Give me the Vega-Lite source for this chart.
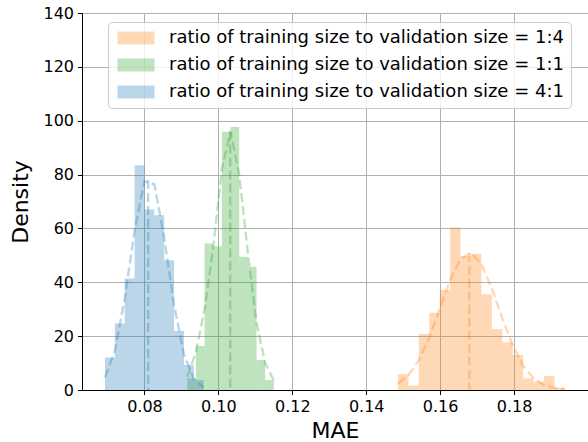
{
  "$schema": "https://vega.github.io/schema/vega-lite/v6.json",
  "width": 506,
  "height": 377,
  "autosize": {"type": "none"},
  "padding": {"left": 82, "top": 13, "right": 0, "bottom": 52},
  "background": "white",
  "datasets": {
    "bars": [
      {"series": "ratio of training size to validation size = 1:4", "x0": 0.14859, "x1": 0.15141, "density": 5.9},
      {"series": "ratio of training size to validation size = 1:4", "x0": 0.15141, "x1": 0.15423, "density": 1.6},
      {"series": "ratio of training size to validation size = 1:4", "x0": 0.15423, "x1": 0.15706, "density": 20.8},
      {"series": "ratio of training size to validation size = 1:4", "x0": 0.15706, "x1": 0.15988, "density": 28.7},
      {"series": "ratio of training size to validation size = 1:4", "x0": 0.15988, "x1": 0.16270, "density": 37.1},
      {"series": "ratio of training size to validation size = 1:4", "x0": 0.16270, "x1": 0.16552, "density": 60.4},
      {"series": "ratio of training size to validation size = 1:4", "x0": 0.16552, "x1": 0.16835, "density": 49.8},
      {"series": "ratio of training size to validation size = 1:4", "x0": 0.16835, "x1": 0.17117, "density": 50.5},
      {"series": "ratio of training size to validation size = 1:4", "x0": 0.17117, "x1": 0.17399, "density": 35.6},
      {"series": "ratio of training size to validation size = 1:4", "x0": 0.17399, "x1": 0.17681, "density": 22.6},
      {"series": "ratio of training size to validation size = 1:4", "x0": 0.17681, "x1": 0.17964, "density": 17.7},
      {"series": "ratio of training size to validation size = 1:4", "x0": 0.17964, "x1": 0.18246, "density": 13.0},
      {"series": "ratio of training size to validation size = 1:4", "x0": 0.18246, "x1": 0.18528, "density": 4.3},
      {"series": "ratio of training size to validation size = 1:4", "x0": 0.18528, "x1": 0.18810, "density": 3.1},
      {"series": "ratio of training size to validation size = 1:4", "x0": 0.18810, "x1": 0.19093, "density": 5.2},
      {"series": "ratio of training size to validation size = 1:4", "x0": 0.19093, "x1": 0.19375, "density": 0.9},
      {"series": "ratio of training size to validation size = 1:1", "x0": 0.09157, "x1": 0.09391, "density": 4.3},
      {"series": "ratio of training size to validation size = 1:1", "x0": 0.09391, "x1": 0.09626, "density": 16.3},
      {"series": "ratio of training size to validation size = 1:1", "x0": 0.09626, "x1": 0.09860, "density": 54.4},
      {"series": "ratio of training size to validation size = 1:1", "x0": 0.09860, "x1": 0.10094, "density": 53.4},
      {"series": "ratio of training size to validation size = 1:1", "x0": 0.10094, "x1": 0.10329, "density": 95.9},
      {"series": "ratio of training size to validation size = 1:1", "x0": 0.10329, "x1": 0.10563, "density": 97.7},
      {"series": "ratio of training size to validation size = 1:1", "x0": 0.10563, "x1": 0.10797, "density": 49.5},
      {"series": "ratio of training size to validation size = 1:1", "x0": 0.10797, "x1": 0.11032, "density": 45.8},
      {"series": "ratio of training size to validation size = 1:1", "x0": 0.11032, "x1": 0.11266, "density": 11.1},
      {"series": "ratio of training size to validation size = 1:1", "x0": 0.11266, "x1": 0.11500, "density": 3.7},
      {"series": "ratio of training size to validation size = 4:1", "x0": 0.06932, "x1": 0.07199, "density": 12.1},
      {"series": "ratio of training size to validation size = 4:1", "x0": 0.07199, "x1": 0.07466, "density": 24.7},
      {"series": "ratio of training size to validation size = 4:1", "x0": 0.07466, "x1": 0.07733, "density": 41.4},
      {"series": "ratio of training size to validation size = 4:1", "x0": 0.07733, "x1": 0.08000, "density": 83.5},
      {"series": "ratio of training size to validation size = 4:1", "x0": 0.08000, "x1": 0.08267, "density": 67.0},
      {"series": "ratio of training size to validation size = 4:1", "x0": 0.08267, "x1": 0.08534, "density": 64.9},
      {"series": "ratio of training size to validation size = 4:1", "x0": 0.08534, "x1": 0.08801, "density": 48.2},
      {"series": "ratio of training size to validation size = 4:1", "x0": 0.08801, "x1": 0.09068, "density": 21.9},
      {"series": "ratio of training size to validation size = 4:1", "x0": 0.09068, "x1": 0.09335, "density": 9.3},
      {"series": "ratio of training size to validation size = 4:1", "x0": 0.09335, "x1": 0.09602, "density": 3.7}
    ],
    "curves": [
      {"series": "ratio of training size to validation size = 1:4", "x": 0.14859, "pdf": 2.4},
      {"series": "ratio of training size to validation size = 1:4", "x": 0.15141, "pdf": 5.5},
      {"series": "ratio of training size to validation size = 1:4", "x": 0.15423, "pdf": 11.1},
      {"series": "ratio of training size to validation size = 1:4", "x": 0.15706, "pdf": 19.5},
      {"series": "ratio of training size to validation size = 1:4", "x": 0.15988, "pdf": 30.1},
      {"series": "ratio of training size to validation size = 1:4", "x": 0.16270, "pdf": 40.9},
      {"series": "ratio of training size to validation size = 1:4", "x": 0.16552, "pdf": 48.7},
      {"series": "ratio of training size to validation size = 1:4", "x": 0.16835, "pdf": 50.9},
      {"series": "ratio of training size to validation size = 1:4", "x": 0.17117, "pdf": 46.7},
      {"series": "ratio of training size to validation size = 1:4", "x": 0.17399, "pdf": 37.7},
      {"series": "ratio of training size to validation size = 1:4", "x": 0.17681, "pdf": 26.7},
      {"series": "ratio of training size to validation size = 1:4", "x": 0.17964, "pdf": 16.5},
      {"series": "ratio of training size to validation size = 1:4", "x": 0.18246, "pdf": 9.0},
      {"series": "ratio of training size to validation size = 1:4", "x": 0.18528, "pdf": 4.3},
      {"series": "ratio of training size to validation size = 1:4", "x": 0.18810, "pdf": 1.8},
      {"series": "ratio of training size to validation size = 1:4", "x": 0.19093, "pdf": 0.7},
      {"series": "ratio of training size to validation size = 1:4", "x": 0.19375, "pdf": 0.2},
      {"series": "ratio of training size to validation size = 1:1", "x": 0.09157, "pdf": 5.0},
      {"series": "ratio of training size to validation size = 1:1", "x": 0.09391, "pdf": 14.0},
      {"series": "ratio of training size to validation size = 1:1", "x": 0.09626, "pdf": 30.0},
      {"series": "ratio of training size to validation size = 1:1", "x": 0.09860, "pdf": 53.0},
      {"series": "ratio of training size to validation size = 1:1", "x": 0.10094, "pdf": 82.0},
      {"series": "ratio of training size to validation size = 1:1", "x": 0.10329, "pdf": 96.0},
      {"series": "ratio of training size to validation size = 1:1", "x": 0.10563, "pdf": 80.0},
      {"series": "ratio of training size to validation size = 1:1", "x": 0.10797, "pdf": 51.0},
      {"series": "ratio of training size to validation size = 1:1", "x": 0.11032, "pdf": 25.0},
      {"series": "ratio of training size to validation size = 1:1", "x": 0.11266, "pdf": 10.0},
      {"series": "ratio of training size to validation size = 1:1", "x": 0.11500, "pdf": 3.5},
      {"series": "ratio of training size to validation size = 4:1", "x": 0.06932, "pdf": 4.7},
      {"series": "ratio of training size to validation size = 4:1", "x": 0.07199, "pdf": 14.6},
      {"series": "ratio of training size to validation size = 4:1", "x": 0.07466, "pdf": 33.9},
      {"series": "ratio of training size to validation size = 4:1", "x": 0.07733, "pdf": 59.1},
      {"series": "ratio of training size to validation size = 4:1", "x": 0.08000, "pdf": 77.5},
      {"series": "ratio of training size to validation size = 4:1", "x": 0.08267, "pdf": 76.4},
      {"series": "ratio of training size to validation size = 4:1", "x": 0.08534, "pdf": 56.6},
      {"series": "ratio of training size to validation size = 4:1", "x": 0.08801, "pdf": 31.6},
      {"series": "ratio of training size to validation size = 4:1", "x": 0.09068, "pdf": 13.2},
      {"series": "ratio of training size to validation size = 4:1", "x": 0.09335, "pdf": 4.2},
      {"series": "ratio of training size to validation size = 4:1", "x": 0.09602, "pdf": 1.0}
    ],
    "means": [
      {"series": "ratio of training size to validation size = 1:4", "mean": 0.1679, "peak": 51.0},
      {"series": "ratio of training size to validation size = 1:1", "mean": 0.1032, "peak": 96.0},
      {"series": "ratio of training size to validation size = 4:1", "mean": 0.0810, "peak": 78.0}
    ]
  },
  "layer": [
    {
      "data": {"name": "bars"},
      "mark": {"type": "rect", "opacity": 0.3},
      "encoding": {
        "x": {"field": "x0", "type": "quantitative", "scale": {"domain": [0.0631, 0.2], "nice": false, "zero": false},
              "axis": {"values": [0.08, 0.10, 0.12, 0.14, 0.16, 0.18], "format": ".2f", "title": "MAE"}},
        "x2": {"field": "x1"},
        "y": {"field": "density", "type": "quantitative", "scale": {"domain": [0, 140], "nice": false},
              "axis": {"values": [0, 20, 40, 60, 80, 100, 120, 140], "title": "Density"}},
        "y2": {"datum": 0},
        "color": {"field": "series", "type": "nominal",
          "scale": {"domain": ["ratio of training size to validation size = 1:4", "ratio of training size to validation size = 1:1", "ratio of training size to validation size = 4:1"],
                    "range": ["#ff7f0e", "#2ca02c", "#1f77b4"]},
          "legend": {"orient": "none", "legendX": 26, "legendY": 9, "title": null,
            "symbolType": "M-1,-1H4.692V1H-1Z", "symbolSize": 169, "symbolOpacity": 0.3, "symbolStrokeWidth": 0,
            "labelOffset": 36, "rowPadding": 9, "padding": 7,
            "labelFontSize": 18, "labelFont": "DejaVu Sans", "labelColor": "black", "labelLimit": 600,
            "fillColor": "rgba(255,255,255,0.8)", "strokeColor": "#cccccc", "cornerRadius": 4}
        }
      }
    },
    {
      "data": {"name": "curves"},
      "mark": {"type": "line", "opacity": 0.3, "strokeWidth": 2.4, "strokeDash": [9, 4]},
      "encoding": {
        "x": {"field": "x", "type": "quantitative"},
        "y": {"field": "pdf", "type": "quantitative"},
        "color": {"field": "series", "type": "nominal", "legend": null}
      }
    },
    {
      "data": {"name": "means"},
      "mark": {"type": "rule", "opacity": 0.3, "strokeWidth": 2.4, "strokeDash": [9, 4]},
      "encoding": {
        "x": {"field": "mean", "type": "quantitative"},
        "y": {"field": "peak", "type": "quantitative"},
        "y2": {"datum": 0},
        "color": {"field": "series", "type": "nominal", "legend": null}
      }
    }
  ],
  "config": {
    "font": "DejaVu Sans",
    "view": {"stroke": "black", "strokeWidth": 1},
    "axis": {
      "zindex": 1,
      "labelFont": "DejaVu Sans", "labelFontSize": 16, "labelColor": "black",
      "titleFont": "DejaVu Sans", "titleFontSize": 22, "titleFontWeight": "normal", "titleColor": "black",
      "domainColor": "black", "domainWidth": 1,
      "tickColor": "black", "tickSize": 4.5, "tickWidth": 1,
      "gridColor": "#b0b0b0", "gridWidth": 1, "gridOpacity": 1,
      "labelPadding": 4
    },
    "axisX": {"titlePadding": 6},
    "axisY": {"titlePadding": 10}
  }
}
